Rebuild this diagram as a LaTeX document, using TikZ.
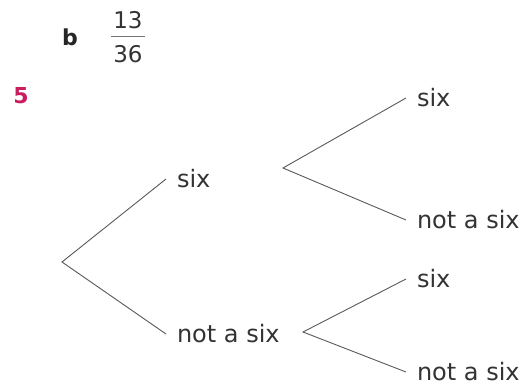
\documentclass[tikz,border=0pt]{standalone}
\usepackage{fontspec}
\setmainfont{DejaVu Sans}

\begin{document}
\begin{tikzpicture}[
    x=1pt, y=-1pt,
    branch/.style={draw=black!65, line width=0.9pt},
    outcome/.style={anchor=west, font=\fontsize{24}{28}\selectfont, text=black!80, inner xsep=11pt, inner ysep=2pt, outer sep=0pt},
    partlabel/.style={font=\fontsize{22}{26}\selectfont\bfseries, text=black!85},
    qnum/.style={font=\fontsize{22}{26}\selectfont\bfseries, text=qcolor},
    fracpart/.style={font=\fontsize{23}{27}\selectfont, text=black!80, inner sep=0pt}
  ]
  \definecolor{qcolor}{RGB}{200,30,95}
  \useasboundingbox (0,0) rectangle (527,387);

  % Risposta b
  \node[partlabel] (partb) at (70,37) {b};
  \node[fracpart] (num) at (128,20) {13};
  \node[fracpart] (den) at (128,54) {36};
  \draw[black!55, line width=0.8pt] (111,36) -- (145,36);

  % Domanda 5
  \node[qnum] (q5) at (21,96) {5};

  % Punti di diramazione
  \coordinate (root)  at (62,262);
  \coordinate (forka) at (283,168);
  \coordinate (forkb) at (303,332);

  % Primo lancio
  \node[outcome] (six)  at (166,179) {six};
  \node[outcome] (nsix) at (166,334) {not a six};

  % Secondo lancio
  \node[outcome] (sixsix)  at (406,98)  {six};
  \node[outcome] (sixnot)  at (406,220) {not a six};
  \node[outcome] (notsix)  at (406,279) {six};
  \node[outcome] (notnot)  at (406,372) {not a six};

  % Rami
  \draw[branch] (six.west)   -- (root) -- (nsix.west);
  \draw[branch] (sixsix.west) -- (forka) -- (sixnot.west);
  \draw[branch] (notsix.west) -- (forkb) -- (notnot.west);

\end{tikzpicture}
\end{document}
